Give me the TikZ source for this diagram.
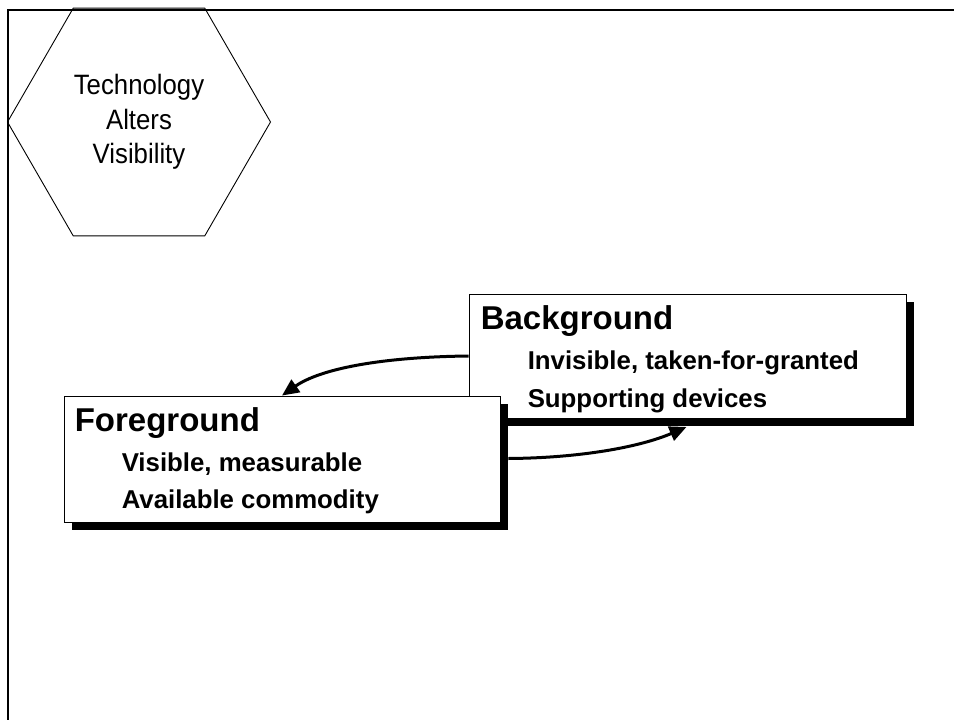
\documentclass[tikz,border=0pt]{standalone}
\usepackage{fontspec}
\setmainfont{Liberation Sans}
\newfontfamily\narrowsans[FakeStretch=0.92]{Liberation Sans}
\usetikzlibrary{shapes.geometric,shadows,arrows.meta,calc}

\tikzset{
  hexbox/.style={draw, line width=0.9pt, regular polygon, regular polygon sides=6,
    minimum size=263pt, inner sep=0pt, align=center,
    font=\narrowsans\fontsize{28}{34.5}\selectfont},
  panel/.style={draw, line width=0.9pt, fill=white, rectangle, inner sep=0pt,
    drop shadow={shadow xshift=8pt, shadow yshift=-8pt, fill=black, opacity=1}},
  paneltitle/.style={anchor=base west, inner sep=0pt,
    font=\bfseries\fontsize{33}{36}\selectfont},
  panelitem/.style={anchor=base west, inner sep=0pt,
    font=\bfseries\fontsize{25.8}{30}\selectfont},
  flow/.style={line width=3pt, -{Triangle[length=17pt,width=15pt]}},
}

\begin{document}
\begin{tikzpicture}[x=1pt,y=1pt]
  \useasboundingbox (0,0) rectangle (954,-720);
  \fill[white] (0,0) rectangle (954,-720);

  % outer frame
  \draw[line width=2pt] (8,-720) -- (8,-10) -- (954,-10);

  % heading hexagon
  \node[hexbox] (hex) at (139,-122) {Technology\\Alters\\Visibility};

  % background panel
  \node[panel, minimum width=437pt, minimum height=124pt] (bg) at (687.5,-356) {};
  \node[paneltitle] (bgtitle) at ($(bg.north west)+(12,-36)$) {Background};
  \node[panelitem] (bgone) at ($(bg.north west)+(59,-76)$) {Invisible, taken-for-granted};
  \node[panelitem] (bgtwo) at ($(bg.north west)+(59,-114)$) {Supporting devices};

  % foreground panel
  \node[panel, minimum width=436pt, minimum height=126pt] (fg) at (282,-459) {};
  \node[paneltitle] (fgtitle) at ($(fg.north west)+(11,-35.5)$) {Foreground};
  \node[panelitem] (fgone) at ($(fg.north west)+(58,-76)$) {Visible, measurable};
  \node[panelitem] (fgtwo) at ($(fg.north west)+(58,-113)$) {Available commodity};

  % shadow edges used as connector ends
  \coordinate (fgout) at ($(fg.east)+(8,0.5)$);
  \coordinate (bgin) at ($(bg.south)+(-1,-8.5)$);

  % connectors
  \draw[flow] (bg.west) .. controls (380,-357) and (320,-369) .. (fg.north);
  \draw[flow] (fgout) .. controls (580,-458) and (640,-447) .. (bgin);
\end{tikzpicture}
\end{document}
